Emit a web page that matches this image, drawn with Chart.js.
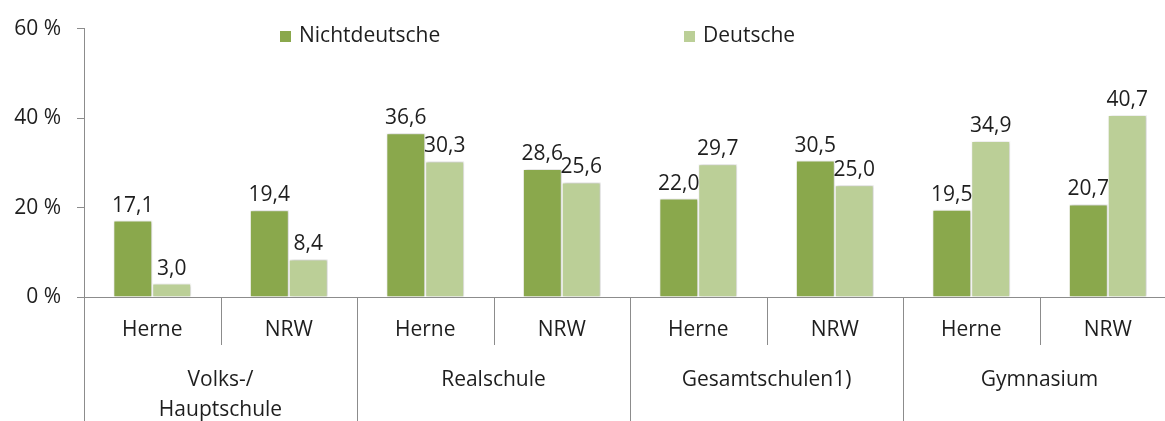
<!DOCTYPE html>
<html>
<head>
<meta charset="utf-8">
<script src="https://cdn.jsdelivr.net/npm/chart.js@4/dist/chart.umd.min.js"></script>
<style>
  html, body { margin: 0; padding: 0; background: #fff; overflow: hidden; }
  #wrap { position: relative; width: 1176px; height: 421px; }
</style>
</head>
<body>
<div id="wrap"><canvas id="c"></canvas></div>
<script>
const groups = ['Volks-/\nHauptschule', 'Realschule', 'Gesamtschulen1)', 'Gymnasium'];
const places = ['Herne', 'NRW', 'Herne', 'NRW', 'Herne', 'NRW', 'Herne', 'NRW'];
const nichtdeutsche = [17.1, 19.4, 36.6, 28.6, 22.0, 30.5, 19.5, 20.7];
const deutsche = [3.0, 8.4, 30.3, 25.6, 29.7, 25.0, 34.9, 40.7];
const yTicks = [0, 20, 40, 60];

const FONT = '"Open Sans", sans-serif';
const SIZE = 21;
const TEXT = '#1e1e1e';
const AXIS = '#8c8c8c';
const DARK = '#8aa84c';
const LIGHT = '#bbcf97';

const fmt = v => v.toFixed(1).replace('.', ',');

// bar shadow like the office original
const shadow = {
  id: 'shadow',
  beforeDatasetsDraw(chart) {
    const ctx = chart.ctx;
    ctx.save();
    ctx.shadowColor = 'rgba(0,0,0,0.25)';
    ctx.shadowBlur = 3;
    ctx.shadowOffsetX = 1;
    ctx.shadowOffsetY = 0;
  },
  afterDatasetsDraw(chart) {
    chart.ctx.restore();
  }
};

const valueLabels = {
  id: 'valueLabels',
  afterDatasetsDraw(chart) {
    const ctx = chart.ctx;
    ctx.save();
    ctx.font = SIZE + 'px ' + FONT;
    ctx.fillStyle = TEXT;
    ctx.textAlign = 'center';
    ctx.textBaseline = 'alphabetic';
    chart.data.datasets.forEach((ds, di) => {
      chart.getDatasetMeta(di).data.forEach((bar, i) => {
        ctx.fillText(fmt(ds.data[i]), bar.x, bar.y - 9);
      });
    });
    ctx.restore();
  }
};

// second axis level: separators and group names
const groupAxis = {
  id: 'groupAxis',
  afterDraw(chart) {
    const ctx = chart.ctx;
    const x = chart.scales.x;
    const y0 = chart.chartArea.bottom;
    const step = (x.right - x.left) / places.length;
    ctx.save();
    ctx.strokeStyle = AXIS;
    ctx.lineWidth = 1;
    for (let i = 0; i <= places.length; i++) {
      const px = Math.round(x.left + i * step) + 0.5;
      const bottom = i % 2 === 0 ? 421 : y0 + 48;
      ctx.beginPath();
      ctx.moveTo(px, y0);
      ctx.lineTo(px, bottom);
      ctx.stroke();
    }
    ctx.font = SIZE + 'px ' + FONT;
    ctx.fillStyle = TEXT;
    ctx.textAlign = 'center';
    ctx.textBaseline = 'middle';
    groups.forEach((g, gi) => {
      const cx = x.left + (gi * 2 + 1) * step;
      g.split('\n').forEach((line, li) => {
        ctx.fillText(line, cx, y0 + 83 + li * 30);
      });
    });
    ctx.restore();
  }
};

const legendTop = {
  id: 'legendTop',
  afterDraw(chart) {
    const ctx = chart.ctx;
    const items = [[280, chart.data.datasets[0]], [684, chart.data.datasets[1]]];
    ctx.save();
    ctx.font = SIZE + 'px ' + FONT;
    ctx.textBaseline = 'alphabetic';
    items.forEach(([lx, ds]) => {
      ctx.fillStyle = ds.backgroundColor;
      ctx.fillRect(lx, 31, 11, 11);
      ctx.fillStyle = TEXT;
      ctx.fillText(ds.label, lx + 19, 42);
    });
    ctx.restore();
  }
};

new Chart(document.getElementById('c'), {
  type: 'bar',
  data: {
    labels: places,
    datasets: [
      { label: 'Nichtdeutsche', data: nichtdeutsche, backgroundColor: DARK, borderColor: '#fff', borderWidth: 1 },
      { label: 'Deutsche', data: deutsche, backgroundColor: LIGHT, borderColor: '#fff', borderWidth: 1 }
    ]
  },
  options: {
    responsive: true,
    maintainAspectRatio: false,
    animation: false,
    layout: { padding: { top: 14, right: 0, left: 0, bottom: 0 } },
    datasets: { bar: { categoryPercentage: 0.57, barPercentage: 1 } },
    plugins: { legend: { display: false }, tooltip: { enabled: false } },
    scales: {
      x: {
        grid: { display: false },
        border: { color: AXIS, width: 1 },
        ticks: { color: TEXT, font: { family: FONT, size: SIZE }, padding: 12, maxRotation: 0 },
        afterFit: s => { s.height = 124; }
      },
      y: {
        min: 0, max: 60,
        afterBuildTicks: s => { s.ticks = yTicks.map(v => ({ value: v })); },
        grid: { drawOnChartArea: false, drawTicks: true, tickLength: 7, color: AXIS },
        border: { color: AXIS, width: 1 },
        ticks: { color: TEXT, font: { family: FONT, size: SIZE }, padding: 16, callback: v => v + ' %' },
        afterFit: s => { s.width = 84; }
      }
    }
  },
  plugins: [shadow, valueLabels, groupAxis, legendTop]
});
</script>
</body>
</html>
